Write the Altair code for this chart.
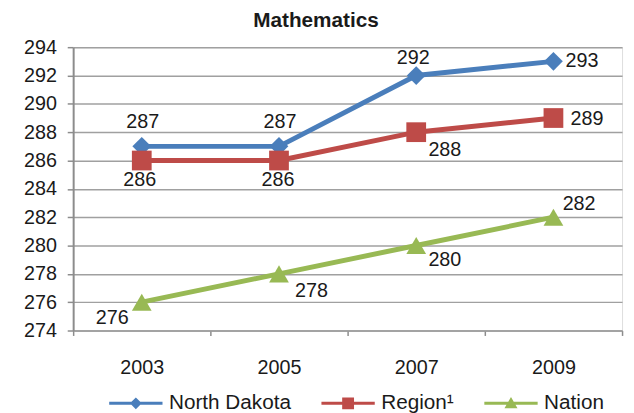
import altair as alt
import pandas as pd

years = ["2003", "2005", "2007", "2009"]
series = ["North Dakota", "Region¹", "Nation"]
north_dakota = [287, 287, 292, 293]
region = [286, 286, 288, 289]
nation = [276, 278, 280, 282]
y_ticks = list(range(274, 295, 2))

colors = ["#4A7EBB", "#BE4B48", "#98B954"]
marker_shapes = ["diamond", "square", "triangle-up"]
marker_sizes = [360, 400, 400]
legend_paths = [
    "M-4.5,-0.25H4.5V0.25H-4.5Z M-1,0L0,-1L1,0L0,1Z",
    "M-4.5,-0.25H4.5V0.25H-4.5Z M-1,-1H1V1H-1Z",
    "M-4.5,-0.25H4.5V0.25H-4.5Z M0,-1.05L1.1,0.85H-1.1Z",
]

# label offsets (dx, dy) relative to each point
label_offsets = {
    ("North Dakota", "2003"): (1, -25),
    ("North Dakota", "2005"): (1, -25),
    ("North Dakota", "2007"): (-3, -18),
    ("North Dakota", "2009"): (29, 0),
    ("Region¹", "2003"): (-2, 20),
    ("Region¹", "2005"): (-1, 20),
    ("Region¹", "2007"): (29, 18),
    ("Region¹", "2009"): (34, 1),
    ("Nation", "2003"): (-30, 16),
    ("Nation", "2005"): (33, 17),
    ("Nation", "2007"): (29, 15),
    ("Nation", "2009"): (26, -13),
}

FONT = "Liberation Sans"

rows = []
for name, vals in zip(series, [north_dakota, region, nation]):
    for yr, v in zip(years, vals):
        rows.append({"year": yr, "series": name, "value": v})
df = pd.DataFrame(rows)

x_enc = alt.X(
    "year:N",
    sort=years,
    bandPosition=0.5,
    scale=alt.Scale(type="band", domain=years, paddingInner=0, paddingOuter=0),
    axis=alt.Axis(
        title=None, labelAngle=0, tickBand="extent", grid=False,
        labelFontSize=20, labelFont=FONT, labelColor="#1a1a1a",
        tickSize=5, tickColor="#8c8c8c", tickWidth=1.5,
        domainColor="#9e9e9e", domainWidth=1.5,
        labelPadding=39, labelBaseline="alphabetic",
    ),
)
y_enc = alt.Y(
    "value:Q",
    scale=alt.Scale(domain=[274, 294], nice=False, zero=False),
    axis=alt.Axis(
        title=None, values=y_ticks, grid=True, gridColor="#a0a0a0", gridWidth=1.5,
        labelFontSize=20, labelFont=FONT, labelColor="#1a1a1a",
        tickSize=6, tickColor="#8c8c8c", tickWidth=1.5,
        domainColor="#8c8c8c", domainWidth=2, labelPadding=11,
    ),
)

base = alt.Chart(df)
layers = []
for name, col in zip(series, colors):
    layers.append(
        base.transform_filter(alt.datum.series == name)
        .mark_line(strokeWidth=5, color=col)
        .encode(x=x_enc, y=y_enc)
    )
for name, col, shp, sz in zip(series, colors, marker_shapes, marker_sizes):
    layers.append(
        base.transform_filter(alt.datum.series == name)
        .mark_point(filled=True, opacity=1, color=col, shape=shp, size=sz)
        .encode(x=x_enc, y=y_enc)
    )
for (name, yr), (dx, dy) in label_offsets.items():
    layers.append(
        base.transform_filter((alt.datum.series == name) & (alt.datum.year == yr))
        .mark_text(dx=dx, dy=dy, fontSize=20, font=FONT, color="#1a1a1a",
                   align="center", baseline="middle")
        .encode(x=x_enc, y=y_enc, text="value:Q")
    )

legend_cfg = dict(
    orient="none", legendX=53, legendY=350, direction="horizontal", title=None,
    labelFontSize=21, labelFont=FONT, labelColor="#1a1a1a",
    symbolSize=144, symbolOpacity=1, symbolStrokeWidth=0,
    labelOffset=23, columnPadding=30, padding=0,
)
layers.append(
    base.mark_point(filled=True, opacity=0, size=144)
    .encode(
        x=x_enc, y=y_enc,
        color=alt.Color("series:N", scale=alt.Scale(domain=series, range=colors),
                        legend=alt.Legend(**legend_cfg)),
        shape=alt.Shape("series:N", scale=alt.Scale(domain=series, range=legend_paths),
                        legend=alt.Legend(**legend_cfg)),
    )
)

chart = alt.layer(*layers).properties(
    width=556,
    height=287,
    autosize="none",
    padding={"left": 66, "top": 37, "right": 4, "bottom": 92},
    title=alt.TitleParams(
        "Mathematics", fontSize=21, fontWeight="bold", font=FONT, color="#1a1a1a",
        anchor="middle", frame="group", dx=-32, offset=6,
    ),
).configure_view(stroke=None).configure(background="white")

chart.save("out.html", embed_options={"renderer": "svg", "actions": False})
